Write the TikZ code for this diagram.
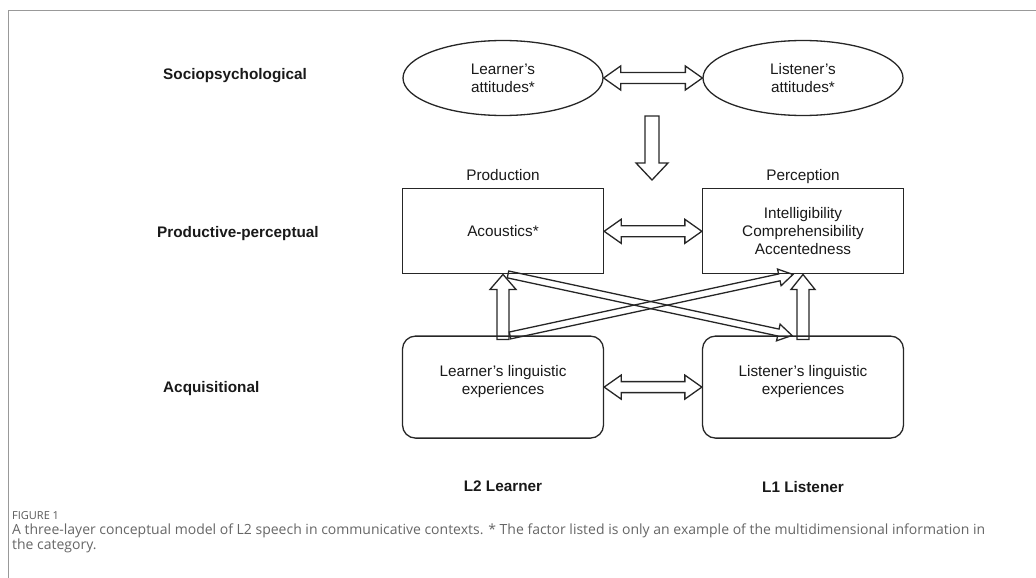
\documentclass[tikz,border=0pt]{standalone}
\usepackage{fontspec}
\setmainfont{Liberation Sans}
\newfontfamily\capfont{Open Sans}
\usetikzlibrary{positioning, calc, shapes.geometric}

\newcommand{\dfont}{\fontsize{15.3}{18}\selectfont}

% block arrow: from #1 to #2, half shaft #3, half head #4, head length #5
\newcommand{\blockarrow}[5]{%
  \coordinate (ba-h) at ($(#2)!#5!(#1)$);
  \draw[fat] ($(#1)!#3!-90:(#2)$) -- ($(ba-h)!#3!-90:(#2)$) -- ($(ba-h)!#4!-90:(#2)$)
    -- (#2) -- ($(ba-h)!#4!90:(#2)$) -- ($(ba-h)!#3!90:(#2)$) -- ($(#1)!#3!90:(#2)$) -- cycle;
}
% double block arrow between #1 and #2
\newcommand{\blockdarrow}[5]{%
  \coordinate (bd-a) at ($(#1)!#5!(#2)$);
  \coordinate (bd-b) at ($(#2)!#5!(#1)$);
  \draw[fat] (#1) -- ($(bd-a)!#4!90:(#2)$) -- ($(bd-a)!#3!90:(#2)$) -- ($(bd-b)!#3!90:(#2)$)
    -- ($(bd-b)!#4!90:(#2)$) -- (#2) -- ($(bd-b)!#4!-90:(#2)$) -- ($(bd-b)!#3!-90:(#2)$)
    -- ($(bd-a)!#3!-90:(#2)$) -- ($(bd-a)!#4!-90:(#2)$) -- cycle;
}

\begin{document}
\begin{tikzpicture}[
    x=1pt, y=-1pt,
    attitude/.style={ellipse, draw=black!85, line width=1.3pt, minimum width=200pt, minimum height=75pt,
                     inner sep=0pt, align=center, font=\dfont, text=black!90},
    layerbox/.style={rectangle, draw=black!85, line width=1.3pt, minimum width=201pt, minimum height=85pt,
                     inner sep=0pt, align=center, font=\dfont, text=black!90},
    expbox/.style={rectangle, draw=black!85, line width=1.3pt, minimum width=201pt, minimum height=102pt,
                   inner sep=0pt, align=center, font=\dfont, text=black!90, rounded corners=13pt},
    layer/.style={font=\dfont\bfseries, inner sep=0pt, text=black!90},
    side/.style={font=\dfont, inner sep=0pt, text=black!90, text height=0.75em, text depth=0.25em},
    fat/.style={draw=black!85, line width=1.3pt, line join=miter},
    frame/.style={draw=black!40, line width=1pt},
]
\useasboundingbox (0,0) rectangle (1036,578);

% ── Frame ──
\draw[frame] (8,578) -- (8,11) -- (1036,11);

% ── Layer names ──
\node[layer, anchor=west] (socio) at (163,76) {Sociopsychological};
\node[layer, anchor=west] (prodper) at (157,234) {Productive-perceptual};
\node[layer, anchor=west] (acq) at (163,389) {Acquisitional};

% ── Sociopsychological ──
\node[attitude] (latt) at (503,78) {Learner's\\attitudes*};
\node[attitude] (tatt) at (803,78) {Listener's\\attitudes*};

% ── Productive-perceptual ──
\node[layerbox, below=72pt of latt] (acou) {Acoustics*};
\node[layerbox, below=72pt of tatt] (perc) {Intelligibility\\Comprehensibility\\Accentedness};
\node[side, above=5pt of acou] (prod) {Production};
\node[side, above=5pt of perc] (perclab) {Perception};

% ── Acquisitional ──
\node[expbox, below=61pt of acou] (lexp) {Learner's linguistic\\experiences\\[-4pt]\mbox{}};
\node[expbox, below=61pt of perc] (texp) {Listener's linguistic\\experiences\\[-4pt]\mbox{}};

\node[layer, below=42pt of lexp] (l2) {L2 Learner};
\node[layer, below=42pt of texp] (l1) {L1 Listener};

% ── Block arrows ──
\blockdarrow{latt.east}{tatt.west}{5.5pt}{12pt}{17pt}
\coordinate (dtop) at (652,116);
\coordinate (dtip) at (652,180);
\blockarrow{dtop}{dtip}{7pt}{16pt}{17pt}
\blockdarrow{acou.east}{perc.west}{5.5pt}{12pt}{17pt}
\blockdarrow{lexp.east}{texp.west}{5.5pt}{12pt}{17pt}

\coordinate (lup) at ([yshift=-4pt]lexp.north);
\coordinate (rup) at ([yshift=-4pt]texp.north);
\blockarrow{lup}{acou.south}{6pt}{13pt}{15pt}
\blockarrow{rup}{perc.south}{6pt}{12pt}{15pt}

\coordinate (d1s) at ([xshift=7pt]lexp.north);
\coordinate (d1t) at ([xshift=-10pt]perc.south);
\coordinate (d2s) at ([xshift=5pt]acou.south);
\coordinate (d2t) at ([xshift=-11pt]texp.north);
\blockarrow{d1s}{d1t}{3.5pt}{8.5pt}{14pt}
\blockarrow{d2s}{d2t}{3.5pt}{8.5pt}{14pt}

% ── Caption ──
\node[anchor=west, inner sep=0pt, text=black!65, font=\capfont\fontsize{11}{13}\selectfont] (fig) at (12,516) {FIGURE 1};
\node[anchor=north west, inner sep=0pt, align=left, text=black!60,
      font=\capfont\fontsize{14}{14.5}\selectfont] (cap) at (12,524)
  {A three-layer conceptual model of L2 speech in communicative contexts. * The factor listed is only an example of the multidimensional information in\\the category.};
\end{tikzpicture}
\end{document}
